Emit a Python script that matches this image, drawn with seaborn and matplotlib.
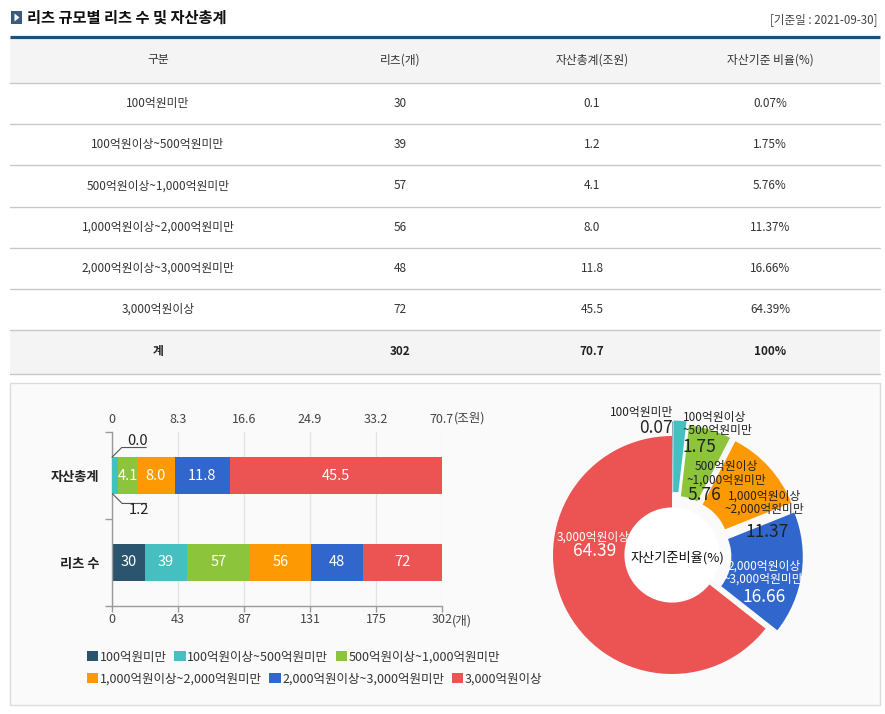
import numpy as np
import matplotlib
matplotlib.use("Agg")
import matplotlib.pyplot as plt
from matplotlib.patches import Rectangle, Polygon, Circle
import seaborn as sns

# 데이터 (표 / 그래프 공통)
categories = ["100억원미만", "100억원이상~500억원미만", "500억원이상~1,000억원미만",
              "1,000억원이상~2,000억원미만", "2,000억원이상~3,000억원미만", "3,000억원이상"]
reits_count = [30, 39, 57, 56, 48, 72]
asset_total = [0.1, 1.2, 4.1, 8.0, 11.8, 45.5]
asset_ratio = [0.07, 1.75, 5.76, 11.37, 16.66, 64.39]
total_row = ["계", "302", "70.7", "100%"]
headers = ["구분", "리츠(개)", "자산총계(조원)", "자산기준 비율(%)"]

asset_bar_labels = ["0.0", "1.2", "4.1", "8.0", "11.8", "45.5"]
count_tick_labels = ["0", "43", "87", "131", "175", "302"]
asset_tick_labels = ["0", "8.3", "16.6", "24.9", "33.2", "70.7"]
bar_rows = ["자산총계", "리츠 수"]

pie_names = ["100억원미만", "100억원이상\n~500억원미만", "500억원이상\n~1,000억원미만",
             "1,000억원이상\n~2,000억원미만", "2,000억원이상\n~3,000억원미만", "3,000억원이상"]
pie_values = ["0.07", "1.75", "5.76", "11.37", "16.66", "64.39"]

colors = ["#2b556f", "#45bfc0", "#8cc43c", "#fd9a03", "#3166cc", "#ec5353"]

sns.set_theme(style="white")
plt.rcParams["font.family"] = ["Noto Sans CJK KR", "DejaVu Sans"]
plt.rcParams["axes.unicode_minus"] = False

W, H = 885, 714
fig = plt.figure(figsize=(W / 100, H / 100), dpi=100)
fig.patch.set_facecolor("white")

# 배경(픽셀 좌표) - 제목, 표, 패널
bg = fig.add_axes([0, 0, 1, 1])
bg.set_xlim(0, W)
bg.set_ylim(H, 0)
bg.axis("off")

bg.add_patch(Rectangle((11, 11), 11, 13, fc="#3b5b7b", ec="none"))
bg.add_patch(Polygon([(14.5, 13.5), (14.5, 21.5), (19.5, 17.5)], fc="white", ec="none"))
bg.text(27, 17.5, "리츠 규모별 리츠 수 및 자산총계", fontsize=11, fontweight="bold",
        color="#111", va="center")
bg.text(878, 20, "[기준일 : 2021-09-30]", fontsize=8.3, color="#444", ha="right", va="center")

bg.add_patch(Rectangle((10, 38), 870, 45, fc="#f4f4f4", ec="none"))
bg.add_patch(Rectangle((10, 330), 870, 43.5, fc="#f4f4f4", ec="none"))
bg.plot([10, 880], [37, 37], color="#1f4f7a", lw=2.3, solid_capstyle="butt")
for yl in [83, 124, 165, 206.5, 248, 289, 330, 373.5]:
    bg.plot([10, 880], [yl, yl], color="#c8c8c8", lw=1)

col_x = [158, 400, 592, 770]
for x, h in zip(col_x, headers):
    bg.text(x, 60, h, fontsize=8.5, color="#333", ha="center", va="center")
for i in range(len(categories)):
    y = 103.5 + 41.2 * i
    cells = [categories[i], str(reits_count[i]), f"{asset_total[i]:.1f}", f"{asset_ratio[i]:.2f}%"]
    for x, t in zip(col_x, cells):
        bg.text(x, y, t, fontsize=8.5, color="#333", ha="center", va="center")
for x, t in zip(col_x, total_row):
    bg.text(x, 351.5, t, fontsize=8.5, color="#222", ha="center", va="center", fontweight="bold")

bg.add_patch(Rectangle((10, 383), 870, 322, fc="#fafafa", ec="#dcdcdc", lw=1))

# 누적 막대 그래프
ax = fig.add_axes([112 / W, (H - 606) / H, 330 / W, 174 / H])
ax.set_facecolor("none")
ax2 = ax.twiny()
ax2.set_facecolor("none")
bar_h = 0.42

left = 0
for v, c in zip(reits_count, colors):
    cont = ax.barh(1, v, left=left, height=bar_h, color=c, lw=0)
    ax.bar_label(cont, labels=[str(v)], label_type="center", color="white", fontsize=10.5)
    left += v

left = 0
for i, (v, c) in enumerate(zip(asset_total, colors)):
    cont = ax2.barh(0, v, left=left, height=bar_h, color=c, lw=0)
    if i >= 2:
        ax2.bar_label(cont, labels=[asset_bar_labels[i]], label_type="center",
                      color="white", fontsize=10.5)
    elif i == 0:
        ax2.annotate(asset_bar_labels[i], xy=(left, -bar_h / 2), xytext=(26, 16),
                     textcoords="offset pixels", ha="center", va="center",
                     fontsize=10.5, color="#222",
                     arrowprops=dict(arrowstyle="-", color="#555", lw=0.8, patchA=None,
                                     shrinkA=0, shrinkB=0, relpos=(0.9, 0.05),
                                     connectionstyle="angle,angleA=0,angleB=45,rad=0"))
    else:
        ax2.annotate(asset_bar_labels[i], xy=(left, bar_h / 2), xytext=(26, -16),
                     textcoords="offset pixels", ha="center", va="center",
                     fontsize=10.5, color="#222",
                     arrowprops=dict(arrowstyle="-", color="#555", lw=0.8, patchA=None,
                                     shrinkA=0, shrinkB=0, relpos=(0.9, 0.95),
                                     connectionstyle="angle,angleA=0,angleB=-45,rad=0"))
    left += v

ax.set_xlim(0, sum(reits_count))
ax2.set_xlim(0, sum(asset_total))
ax.set_xticks(np.linspace(0, sum(reits_count), len(count_tick_labels)), count_tick_labels)
ax2.set_xticks(np.linspace(0, sum(asset_total), len(asset_tick_labels)), asset_tick_labels)
ax.set_ylim(1.5, -0.5)
ax.set_yticks([0, 1], bar_rows)
ax.set_yticks([-0.5, 0.5, 1.5], minor=True)

ax.tick_params(axis="x", which="major", bottom=True, length=4, width=1, color="#9a9a9a",
               labelsize=9, labelcolor="#444", pad=1)
ax.tick_params(axis="y", which="major", left=False, length=0, pad=9, labelsize=9.5)
ax.tick_params(axis="y", which="minor", left=True, length=5, width=1, color="#9a9a9a")
for lab in ax.get_yticklabels():
    lab.set_fontweight("bold")
    lab.set_color("#222")
ax2.tick_params(axis="x", top=False, length=0, labelsize=9, labelcolor="#444", pad=4)

ax.grid(axis="x", color="#e4e4e4", lw=1)
ax.set_axisbelow(True)
for s in ["top", "right"]:
    ax.spines[s].set_visible(False)
for s in ["left", "bottom"]:
    ax.spines[s].set_color("#9a9a9a")
    ax.spines[s].set_linewidth(1)
for s in ax2.spines.values():
    s.set_visible(False)

ax.annotate("(개)", xy=(1, 0), xycoords="axes fraction", xytext=(10, -15),
            textcoords="offset pixels", ha="left", va="center", fontsize=9, color="#444")
ax2.annotate("(조원)", xy=(1, 1), xycoords="axes fraction", xytext=(12, 14),
             textcoords="offset pixels", ha="left", va="center", fontsize=9, color="#444")

# 범례 (두 줄)
handles = [Rectangle((0, 0), 1, 1, fc=c, ec="none") for c in colors]
for row, y in enumerate([657, 679]):
    leg = fig.legend(handles[row * 3:row * 3 + 3], categories[row * 3:row * 3 + 3],
                     ncol=3, loc="center left", bbox_to_anchor=(87 / W, 1 - y / H),
                     frameon=False, fontsize=9.0, handlelength=0.9, handleheight=0.9,
                     handletextpad=0.12, columnspacing=0.6, borderpad=0, borderaxespad=0)
    for t in leg.get_texts():
        t.set_color("#333")

# 도넛 차트
R = 119
cx, cy = 672, 555
side = 2.5 * R
pax = fig.add_axes([(cx - side / 2) / W, (H - cy - side / 2) / H, side / W, side / H])
pax.set_facecolor("none")
pax.add_patch(Circle((0, 0), 0.4, fc="white", ec="none", zorder=0))
pax.pie(asset_ratio, colors=colors, startangle=90, counterclock=False,
        explode=[0.12, 0.13, 0.1, 0.1, 0.1, 0],
        wedgeprops=dict(width=0.6, linewidth=0))
pax.set_xlim(-1.25, 1.25)
pax.set_ylim(-1.25, 1.25)
pax.set_aspect("equal")

name_pos = [(0.01, 1.20, "right"), (0.09, 1.10, "left"), (0.46, 0.685, "center"),
            (0.78, 0.44, "center"), (0.77, -0.15, "center"), (-0.66, 0.15, "center")]
value_pos = [(0.01, 1.07, "right"), (0.09, 0.91, "left"), (0.27, 0.50, "center"),
             (0.80, 0.19, "center"), (0.77, -0.35, "center"), (-0.65, 0.03, "center")]
text_col = ["#222", "#222", "#222", "#222", "white", "white"]
for i in range(len(pie_names)):
    x, y, ha = name_pos[i]
    pax.text(x, y, pie_names[i], ha=ha, va="center", fontsize=8.5, color=text_col[i],
             linespacing=1.0)
    x, y, ha = value_pos[i]
    pax.text(x, y, pie_values[i], ha=ha, va="center", fontsize=12.5, color=text_col[i])
pax.text(0.05, -0.02, "자산기준비율(%)", ha="center", va="center", fontsize=9.5, color="#111")

fig.savefig("out.png", dpi=100, facecolor="white")
